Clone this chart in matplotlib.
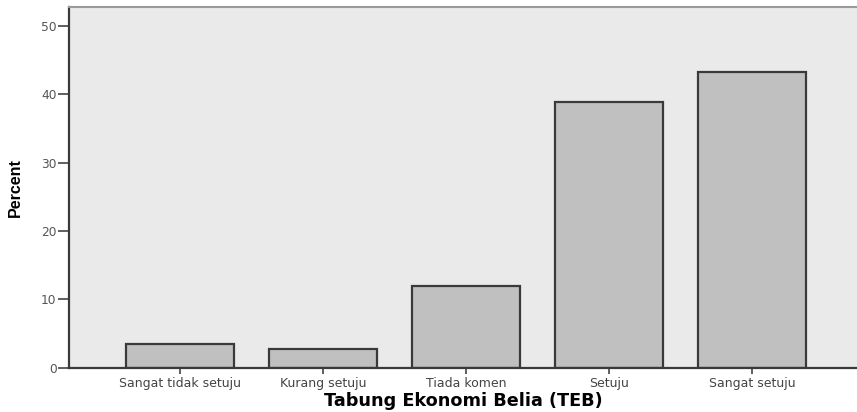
import matplotlib
matplotlib.use('Agg')
import matplotlib.pyplot as plt

# 데이터
categories = ['Sangat tidak setuju', 'Kurang setuju', 'Tiada komen', 'Setuju', 'Sangat setuju']
percent = [3.4, 2.8, 11.9, 38.9, 43.3]
y_ticks = [0, 10, 20, 30, 40, 50]

fig = plt.figure(figsize=(8.57, 4.12), dpi=100)
ax = fig.add_axes([69/857, 44.3/412, 1 - 69/857, (404.7 - 44.3)/412])
ax.set_facecolor('#EAEAEA')

x = range(len(categories))
ax.bar(x, percent, width=0.75, color='#C0C0C0', edgecolor='#3A3A3A', linewidth=1.6, zorder=2)

# 축 범위 설정
ax.set_xlim(-0.776, 4.734)
ax.set_ylim(0, 52.7)
ax.set_yticks(y_ticks)
ax.set_xticks(list(x))
ax.set_xticklabels(categories, fontsize=9, color='#444444', family='DejaVu Sans')
ax.set_yticklabels([str(v) for v in y_ticks], fontsize=8.8, color='#555555', family='DejaVu Sans')
ax.tick_params(axis='y', length=8, width=1.2, color='#444444', pad=1)
ax.tick_params(axis='x', length=4, width=1.2, color='#444444', pad=3)

for side in ['left', 'bottom']:
    ax.spines[side].set_color('#3A3A3A')
    ax.spines[side].set_linewidth(1.6)
ax.spines['top'].set_color('#9A9A9A')
ax.spines['top'].set_linewidth(1.5)
ax.spines['right'].set_visible(False)

ax.set_xlabel('Tabung Ekonomi Belia (TEB)', fontsize=12.7, fontweight='bold', family='DejaVu Sans', labelpad=1)
ax.set_ylabel('Percent', fontsize=11.5, fontweight='bold',
              family=['Liberation Sans Narrow', 'Liberation Sans'], labelpad=13)

fig.savefig('out.png', dpi=100)
